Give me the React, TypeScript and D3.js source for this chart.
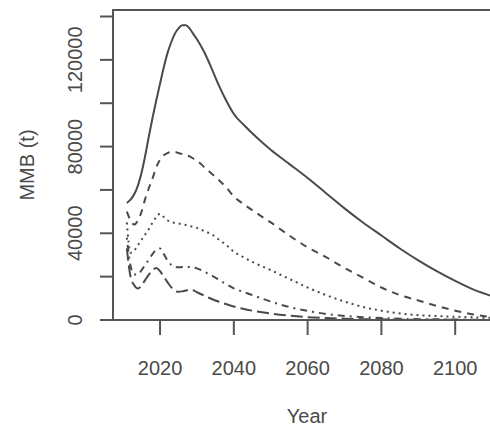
import React, { useEffect, useRef } from 'react';
import * as d3 from 'd3';

// projection years shared by every scenario
const years = [
  2011, 2012, 2013, 2014, 2015, 2016, 2017, 2018, 2019, 2020,
  2021, 2022, 2023, 2024, 2025, 2026, 2027, 2028, 2029, 2030,
  2032, 2034, 2036, 2038, 2040, 2043, 2046,
  2050, 2055, 2060, 2065, 2070, 2075, 2080, 2085, 2090, 2095, 2100, 2105, 2110,
];

const solid = [
  54000, 55500, 58000, 62000, 68000, 76000, 85000, 93500, 101500, 109000,
  116500, 123000, 128000, 132000, 134500, 136000, 136000, 134500, 132000, 129500,
  123500, 116000, 108000, 101000, 95000, 89500, 84500,
  78500, 72000, 65500, 58500, 51500, 45000, 39000, 33000, 27500, 22500, 18000, 14000, 11000,
];

const dashed = [
  50000, 46000, 44000, 46000, 50000, 56000, 61000, 65500, 70500, 74000,
  76000, 77000, 77500, 77500, 77000, 76500, 76000, 75500, 74500, 73500,
  70500, 67500, 64500, 61000, 57000, 53000, 49500,
  45000, 39000, 33500, 29000, 24000, 19500, 15000, 11500, 9000, 6500, 4300, 2500, 1300,
];

const dotted = [
  45000, 31000, 32000, 34500, 37000, 39500, 42000, 45000, 47500, 49000,
  47500, 46000, 45200, 44800, 44500, 44200, 43800, 43400, 43000, 42500,
  41000, 39500, 37000, 34500, 31500, 28600, 26000,
  23000, 19000, 15000, 11500, 8500, 6000, 4300, 3000, 2200, 1800, 1500, 1200, 1000,
];

const dotDash = [
  38000, 25000, 21000, 21000, 23000, 25500, 28000, 30500, 32500, 33000,
  30500, 27500, 25500, 24500, 24300, 24400, 24500, 24500, 24200, 23800,
  22300, 20500, 18500, 16500, 14600, 12700, 10900,
  8500, 6000, 4200, 2800, 1900, 1300, 900, 600, 400, 300, 200, 150, 100,
];

const longDash = [
  33000, 20000, 16000, 14500, 16000, 18500, 21000, 23000, 24000, 22500,
  20000, 17500, 15200, 13500, 13000, 13200, 13600, 13900, 13700, 12800,
  11200, 9700, 8400, 7300, 6200, 5000, 4000,
  3000, 2000, 1300, 900, 600, 400, 300, 200, 100, 80, 60, 50, 40,
];

const series = [solid, dashed, dotted, dotDash, longDash];
const dashes = ['none', '7,6', '2,4', '2,5,7,5', '12,5'];

const xTicks = [2020, 2040, 2060, 2080, 2100];
const yTicks = [0, 20000, 40000, 60000, 80000, 100000, 120000, 140000];
const yLabels = [0, 40000, 80000, 120000];

export default function App() {
  const ref = useRef<SVGSVGElement>(null);

  useEffect(() => {
    const svg = d3.select(ref.current);
    svg.selectAll('*').remove();

    const left = 113, right = 505, top = 10, bottom = 320;
    const ink = '#4a4a4a';
    const font = 'Liberation Sans, Arial, sans-serif';

    const x = d3.scaleLinear().domain([2007.25, 2113.5]).range([left, right]);
    const y = d3.scaleLinear().domain([0, 143000]).range([bottom, top]);

    const line = d3.line<number>()
      .x((_, i) => x(years[i]))
      .y(d => y(d))
      .curve(d3.curveMonotoneX);

    series.forEach((vals, i) => {
      svg.append('path')
        .attr('d', line(vals))
        .attr('fill', 'none')
        .attr('stroke', ink)
        .attr('stroke-width', 2)
        .attr('stroke-dasharray', dashes[i]);
    });

    // box
    svg.append('rect')
      .attr('x', left).attr('y', top)
      .attr('width', right - left).attr('height', bottom - top)
      .attr('fill', 'none')
      .attr('stroke', '#555')
      .attr('stroke-width', 2);

    // y axis
    yTicks.forEach(t => {
      svg.append('line')
        .attr('x1', left - 13).attr('x2', left)
        .attr('y1', y(t)).attr('y2', y(t))
        .attr('stroke', '#555').attr('stroke-width', 2);
    });
    yLabels.forEach(t => {
      svg.append('text')
        .attr('transform', `translate(82,${y(t)}) rotate(-90)`)
        .attr('text-anchor', 'middle')
        .attr('font-family', font)
        .attr('font-size', 20)
        .attr('fill', ink)
        .text(t);
    });

    // x axis
    xTicks.forEach(t => {
      svg.append('line')
        .attr('x1', x(t)).attr('x2', x(t))
        .attr('y1', bottom).attr('y2', bottom + 15)
        .attr('stroke', '#555').attr('stroke-width', 2);
      svg.append('text')
        .attr('x', x(t)).attr('y', 375)
        .attr('text-anchor', 'middle')
        .attr('font-family', font)
        .attr('font-size', 20)
        .attr('fill', ink)
        .text(t);
    });

    svg.append('text')
      .attr('x', 307).attr('y', 423)
      .attr('text-anchor', 'middle')
      .attr('font-family', font)
      .attr('font-size', 20)
      .attr('fill', ink)
      .text('Year');

    svg.append('text')
      .attr('transform', `translate(34,${(top + bottom) / 2}) rotate(-90)`)
      .attr('text-anchor', 'middle')
      .attr('font-family', font)
      .attr('font-size', 20)
      .attr('fill', ink)
      .text('MMB (t)');
  }, []);

  return (
    <div style={{ position: 'absolute', left: 0, top: 0 }}>
      <svg ref={ref} width={490} height={427} style={{ display: 'block', background: '#fff' }} />
    </div>
  );
}
